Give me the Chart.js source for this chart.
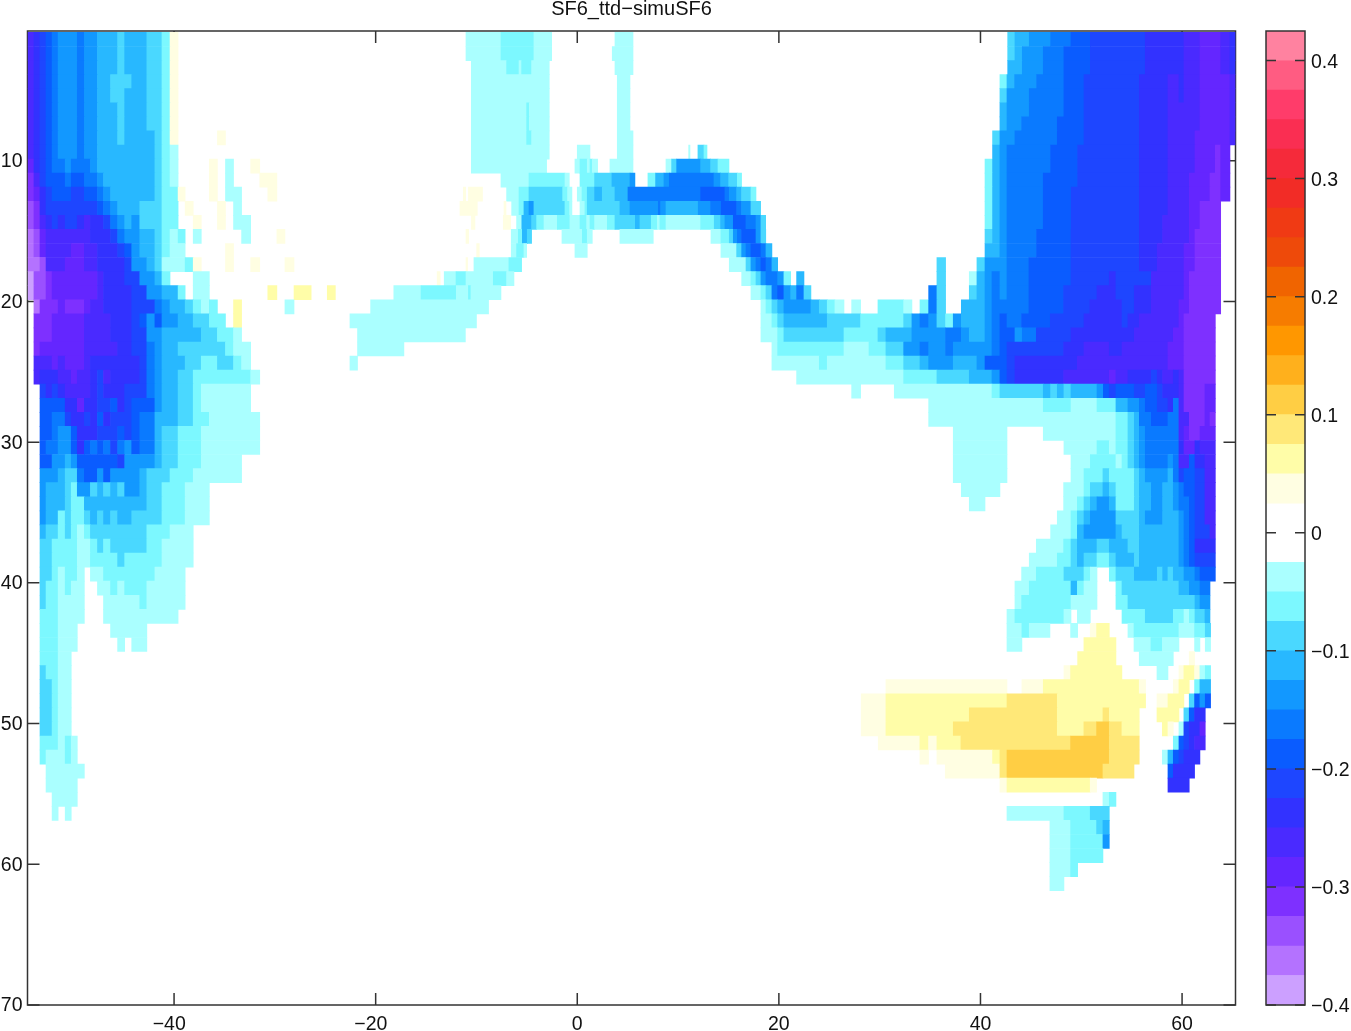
<!DOCTYPE html>
<html>
<head>
<meta charset="utf-8">
<title>SF6_ttd−simuSF6</title>
<script src="https://cdn.jsdelivr.net/npm/chart.js@4/dist/chart.umd.js"></script>
<style>
  html, body { margin: 0; background: #fff; overflow: hidden; }
  canvas { position: absolute; top: 0; }
  #section { left: 0; }
  #colorbar { left: 1245px; }
</style>
</head>
<body>
<canvas id="section" width="1351" height="1031"></canvas>
<canvas id="colorbar" width="106" height="1031"></canvas>
<script>
const titleText = 'SF6_ttd−simuSF6';
const lonTicks = [-40, -20, 0, 20, 40, 60];
const depthTicks = [10, 20, 30, 40, 50, 60, 70];
const barTicks = [-0.4, -0.3, -0.2, -0.1, 0, 0.1, 0.2, 0.3, 0.4];
const levelStep = 0.025; // every class in the section is one colorbar step

// colorbar classes, nearest to zero first
const coldColors = ['#AAFFFF', '#7CF8FF', '#4AD8FF', '#28B8FF', '#1298FF', '#0A7AFF', '#0A5CFF', '#1E46FF',
  '#3232FF', '#4A2AFF', '#6426FF', '#7E30FF', '#9A50FF', '#B472FF', '#CCA0FF'];
const warmColors = ['#FFFEE2', '#FFFDA8', '#FFE878', '#FFCE44', '#FFB01C', '#FF9700', '#F67C00', '#F06400',
  '#EE4A0A', '#F03A14', '#F22C26', '#F52A3A', '#FA2E52', '#FF3C6A', '#FF5C82', '#FF82A0'];

// one list per depth level (1, 2, 3 ...): lon, class, lon, class, ..., last lon. class 0 = blank
const depthRuns = [
  [-54.5,-10,-53.9,-9,-53.3,-8,-52.7,-7,-52.1,-6,-51.5,-5,-49.6,-6,-48.9,-5,-47.6,-4,-45.6,-3,-44.9,-4,-42.7,-3,-41.2,-2,-40.4,1,-39.6,0,-11.04,-1,-7.57,-2,-4.3,-1,-2.54,0,3.74,-1,5.53,0,42.7,-3,43.42,-4,44.84,-5,46.96,-6,48.98,-7,50.9,-8,56.35,-9,60.19,-10,61.78,-11,63.83,-10,64.75,-9,65.3],
  [-54.5,-10,-53.9,-9,-53.3,-8,-52.7,-7,-52.1,-6,-51.5,-5,-49.6,-6,-48.9,-5,-47.6,-4,-45.6,-3,-44.9,-4,-42.7,-3,-41.2,-2,-40.4,1,-39.6,0,-11.04,-1,-7.57,-2,-4.3,-1,-2.54,0,3.47,-1,5.53,0,42.7,-3,43.42,-4,44.15,-5,46.23,-6,48.28,-7,50.9,-8,56.35,-9,60.19,-10,61.78,-11,63.83,-10,64.75,-9,65.3],
  [-54.5,-10,-53.9,-9,-53.3,-8,-52.7,-7,-52.1,-6,-51.5,-5,-49.6,-6,-48.9,-5,-47.6,-4,-45.6,-3,-44.9,-4,-42.7,-3,-41.2,-2,-40.4,1,-39.6,0,-10.51,-1,-7.01,-2,-5.78,-1,-5.52,-2,-4.53,-1,-2.78,0,3.74,-1,5.53,0,42.7,-4,44.15,-5,46.23,-6,48.28,-7,50.9,-8,56.35,-9,60.19,-10,61.78,-11,63.83,-10,64.75,-9,65.3],
  [-54.5,-10,-53.9,-9,-53.3,-8,-52.7,-7,-52.1,-6,-51.5,-5,-49.6,-6,-48.9,-5,-47.6,-4,-46.3,-3,-44.2,-4,-42.7,-3,-41.2,-2,-40.4,1,-39.6,0,-10.51,-1,-2.78,0,3.97,-1,5.23,0,41.93,-2,42.63,-4,43.39,-5,45.57,-6,48.28,-7,50.27,-8,55.76,-9,58.6,-10,59.69,-9,60.19,-10,61.78,-11,64.75,-10,65.3],
  [-54.5,-10,-53.9,-9,-53.3,-8,-52.7,-7,-52.1,-6,-51.5,-5,-49.6,-6,-48.9,-5,-47.6,-4,-46.3,-3,-44.9,-4,-42.7,-3,-41.2,-2,-40.4,1,-39.6,0,-10.51,-1,-2.78,0,3.97,-1,5.23,0,41.93,-3,42.63,-5,44.84,-6,48.28,-7,50.27,-8,55.76,-9,58.6,-10,59.69,-9,60.19,-10,61.78,-11,64.75,-10,65.3],
  [-54.5,-10,-53.9,-9,-53.3,-8,-52.7,-7,-52.1,-6,-51.5,-5,-49.6,-6,-48.9,-5,-47.6,-4,-45.6,-3,-44.9,-4,-42.7,-3,-41.2,-2,-40.4,1,-39.6,0,-10.51,-1,-5.02,-2,-4.76,-1,-2.78,0,3.97,-1,5.23,0,41.93,-4,42.63,-5,44.84,-6,48.28,-7,50.27,-8,55.76,-9,58.6,-10,61.78,-11,64.75,-10,65.3],
  [-54.5,-10,-53.9,-9,-53.3,-8,-52.7,-7,-52.1,-6,-51.5,-5,-49.6,-6,-48.9,-5,-47.6,-4,-45.6,-3,-44.9,-4,-42.7,-3,-41.2,-2,-40.4,1,-39.6,0,-10.51,-1,-5.02,-2,-4.76,-1,-2.78,0,3.97,-1,5.23,0,41.93,-4,42.63,-5,44.08,-6,47.62,-7,50.27,-8,55.76,-9,58.6,-10,61.78,-11,64.75,-10,65.3],
  [-54.5,-10,-53.9,-9,-53.3,-8,-52.7,-7,-52.1,-6,-51.5,-5,-49.6,-6,-48.9,-5,-47.6,-4,-45.6,-3,-44.9,-4,-41.9,-3,-41.2,-2,-40.4,1,-39.6,0,-35.7,1,-34.9,0,-10.51,-1,-5.02,-2,-4.53,-1,-2.78,0,3.97,-1,5.53,0,41.2,-3,41.93,-5,43.42,-6,47.62,-7,50.27,-8,55.76,-9,58.6,-10,61.28,-11,64.75,-10,65.3],
  [-54.5,-10,-53.9,-9,-53.3,-8,-52.7,-7,-52.1,-6,-51.5,-5,-49.6,-6,-48.9,-5,-47.6,-4,-41.9,-3,-41.2,-2,-40.4,-1,-39.6,0,-10.51,-1,-2.78,0,0,-1,1.26,0,3.97,-1,5.53,0,11.05,-1,11.18,0,11.97,-3,12.57,-2,12.87,0,41.2,-4,41.93,-5,42.63,-6,46.96,-7,49.64,-8,55.76,-9,58.6,-10,61.28,-11,63.3,-12,63.83,-11,64.75],
  [-54.5,-11,-53.9,-9,-53.3,-8,-52.7,-7,-52.1,-6,-50.8,-5,-50.2,-6,-48.3,-5,-47.6,-4,-41.9,-3,-41.2,-2,-40.4,-1,-39.6,0,-36.5,1,-35.7,0,-34.9,-1,-34.1,0,-32.4,1,-31.5,0,-10.51,-1,-3.04,0,-0.23,-1,0.27,-2,0.99,-1,1.26,-2,1.49,-1,2.02,0,3.24,-1,5.53,0,8.8,-1,9.36,-3,9.86,-5,12.24,-4,13.23,-3,13.96,-2,15.05,0,40.45,-2,41.2,-4,41.93,-5,42.63,-6,46.96,-7,49.64,-8,55.76,-9,58.6,-10,61.28,-11,63.3,-12,63.83,-11,64.75],
  [-54.5,-12,-53.9,-10,-53.3,-8,-52.7,-7,-50.8,-6,-50.2,-7,-48.9,-6,-47.6,-5,-47.0,-4,-41.9,-3,-41.2,-2,-40.4,-1,-39.6,0,-36.5,1,-35.7,0,-34.9,-1,-34.1,0,-31.5,1,-29.8,0,-7.57,-1,-4.79,-2,-1.22,-1,-0.79,0,0.27,-2,1.72,-3,3.44,-4,5.23,-5,5.72,0,7.01,-2,7.77,-4,8.6,-5,9.13,-6,13.56,-5,14.22,-4,15.02,-3,15.88,-2,16.3,0,40.45,-2,41.2,-4,41.93,-5,42.63,-6,46.23,-7,49.64,-8,55.76,-9,58.6,-10,60.72,-11,62.77,-12,63.83,-11,64.75],
  [-54.5,-12,-53.9,-11,-53.3,-9,-52.7,-8,-52.1,-7,-50.2,-8,-48.9,-7,-47.6,-6,-47.0,-5,-46.3,-4,-41.9,-3,-41.2,-2,-39.6,1,-38.9,0,-36.5,1,-35.7,0,-34.9,-1,-33.3,0,-30.7,1,-29.8,0,-11.3,1,-11.07,0,-10.8,1,-9.4,0,-7.01,-1,-5.78,-2,-4.79,-3,-1.45,-2,-0.96,-1,-0.53,0,0,-1,0.47,-2,0.99,-3,1.72,-4,2.48,-3,3.74,-4,5.03,-6,12.24,-7,14.65,-6,15.08,-5,15.81,-4,16.3,-3,17.23,-2,17.73,0,40.45,-2,41.2,-4,41.93,-5,42.63,-6,46.23,-7,49.01,-8,55.76,-9,58.6,-10,60.72,-11,62.77,-12,63.83,-11,64.75],
  [-54.5,-13,-53.9,-12,-53.3,-9,-52.7,-8,-47.6,-7,-47.0,-6,-46.3,-5,-45.6,-4,-43.4,-3,-41.2,-2,-39.6,0,-38.9,1,-38.1,0,-35.7,1,-34.9,0,-34.1,-1,-33.3,0,-11.64,1,-9.92,0,-7.27,1,-7.07,0,-6.51,-1,-5.78,-2,-5.29,-4,-4.79,-5,-4.3,-3,-1.22,-2,-0.76,-1,-0.53,0,0.27,-1,0.76,-2,0.99,-3,4.23,-4,5.23,-5,8.04,-6,8.27,-5,8.8,-4,12.0,-5,13.23,-6,14.29,-7,15.81,-6,16.3,-5,17.23,-3,18.19,0,40.45,-2,41.2,-4,41.93,-5,42.63,-6,46.23,-7,49.01,-8,55.76,-9,58.6,-10,60.72,-11,61.78,-12,63.83],
  [-54.5,-13,-53.9,-12,-53.3,-10,-52.7,-9,-52.1,-8,-51.5,-9,-50.8,-8,-49.6,-9,-48.9,-10,-48.3,-9,-47.0,-8,-46.3,-6,-45.6,-5,-44.9,-4,-44.2,-5,-43.4,-3,-41.2,-2,-39.6,0,-38.1,1,-37.3,0,-35.7,1,-34.9,0,-34.1,-1,-32.4,0,-10.5,1,-10.15,0,-7.34,1,-6.61,0,-6.02,-1,-5.5,-4,-4.53,-3,-4.03,-2,-3.3,-1,-1.98,-2,-0.73,-1,0.27,-2,0.93,-1,1.26,-2,1.72,-1,2.98,-2,3.74,-3,5.76,-4,6.22,-3,7.34,-2,7.94,-1,8.2,-2,8.8,-1,12.24,-2,13.59,-3,14.22,-4,14.65,-5,15.48,-7,16.73,-6,17.73,-5,18.22,-3,18.69,0,40.45,-2,41.2,-4,41.93,-5,42.63,-6,46.23,-7,49.01,-8,55.76,-9,58.07,-10,60.72,-11,61.78,-12,63.83],
  [-54.5,-14,-53.9,-13,-53.3,-11,-52.7,-10,-48.3,-9,-46.3,-8,-45.6,-6,-44.9,-5,-43.4,-4,-41.9,-3,-41.2,-2,-40.4,-1,-39.6,-2,-38.9,0,-38.1,-1,-37.3,0,-33.3,-1,-32.4,0,-29.8,1,-29.0,0,-11.04,1,-10.78,0,-6.55,-1,-5.85,-2,-5.45,-4,-4.96,-3,-4.53,0,-1.52,-1,0.5,-2,0.99,-1,1.49,0,4.23,-1,7.54,0,13.26,-1,14.25,-2,15.08,-3,15.48,-5,15.88,-6,16.3,-7,17.73,-5,18.22,-3,18.7,0,40.45,-3,41.2,-4,41.93,-5,42.63,-6,45.57,-7,48.98,-8,55.76,-9,58.07,-10,60.72,-11,61.28,-12,63.83],
  [-54.5,-14,-53.9,-13,-53.3,-11,-52.7,-10,-50.2,-11,-48.9,-10,-47.6,-9,-45.6,-8,-44.9,-7,-44.2,-5,-43.4,-4,-41.9,-3,-41.2,-2,-40.4,-1,-38.9,0,-34.9,1,-34.1,0,-9.98,1,-9.72,0,-6.55,-1,-6.02,-2,-5.29,-1,-5.02,0,-0.23,-1,0.99,0,14.25,-1,15.81,-3,16.31,-5,16.74,-6,17.23,-7,18.22,-6,18.72,-4,19.31,0,40.45,-4,41.93,-5,42.63,-6,45.57,-7,48.98,-8,55.76,-9,57.54,-10,60.19,-11,61.28,-12,63.83],
  [-54.5,-14,-53.3,-13,-52.7,-10,-50.8,-11,-48.9,-10,-47.6,-9,-44.9,-8,-44.2,-5,-42.7,-4,-41.9,-3,-41.2,-1,-38.9,-2,-38.1,1,-37.3,0,-34.9,1,-34.1,0,-32.4,1,-31.5,0,-29.0,1,-28.1,0,-11.04,1,-10.88,0,-10.25,-1,-6.78,-2,-5.52,0,15.08,-1,16.74,-3,17.23,-5,17.73,-6,18.22,-7,18.72,-6,19.31,-4,19.88,0,35.68,-3,36.54,0,39.65,-3,40.45,-5,42.63,-6,44.81,-7,48.98,-8,55.76,-9,57.54,-10,60.19,-11,61.28,-12,63.83],
  [-54.5,-15,-53.9,-13,-52.7,-12,-52.1,-11,-47.6,-10,-47.0,-9,-44.9,-8,-43.4,-5,-41.9,-4,-41.2,-2,-40.4,0,-38.1,-1,-36.5,0,-13.9,1,-13.6,0,-13.2,-1,-12.03,-2,-11.04,-1,-8.33,-2,-7.01,-1,-6.28,0,16.31,-1,17.23,-2,17.73,-3,18.22,-5,18.72,-6,19.88,-5,20.5,-2,21.17,0,21.76,-4,22.49,0,35.68,-3,36.54,0,38.89,-1,39.65,-4,40.45,-5,41.14,-6,41.93,-5,42.63,-6,44.81,-7,48.98,-8,52.78,-9,53.44,-8,56.95,-10,60.19,-11,60.72,-12,63.83],
  [-54.5,-15,-53.9,-13,-52.7,-12,-52.1,-11,-47.6,-10,-47.0,-9,-44.2,-8,-42.7,-5,-41.2,-4,-39.6,-2,-38.9,0,-38.1,-1,-36.5,0,-30.7,2,-29.8,0,-28.1,2,-26.4,0,-24.8,2,-24.0,0,-18.2,-1,-15.5,-2,-12.0,-1,-10.8,-2,-10.55,-1,-7.57,0,17.23,-1,18.22,-2,18.72,-3,19.31,-6,19.88,-7,20.5,-5,21.17,-4,21.76,-6,22.49,-3,23.18,0,34.86,-6,35.68,-3,36.54,0,38.89,-3,39.65,-4,40.45,-5,41.14,-6,41.93,-5,42.63,-6,44.81,-7,48.25,-8,51.56,-9,53.44,-8,55.26,-9,56.95,-10,60.19,-11,60.72,-12,63.83],
  [-53.9,-14,-53.3,-12,-51.5,-11,-50.8,-12,-48.9,-11,-48.3,-10,-47.0,-9,-44.2,-8,-41.9,-6,-41.2,-5,-40.4,-4,-38.9,-3,-38.1,-2,-37.3,-1,-36.5,-2,-35.7,0,-34.1,2,-33.3,0,-29.0,-1,-28.1,0,-20.5,-1,-8.8,0,18.22,-1,18.72,-2,19.31,-3,19.88,-4,20.5,-5,23.18,-4,24.01,-3,24.8,-2,25.56,-1,26.46,0,27.22,-1,28.11,0,29.83,-2,32.38,-1,33.2,0,34.0,-2,34.86,-6,35.68,-3,36.54,0,38.1,-4,40.45,-5,41.14,-6,44.81,-7,48.25,-8,50.86,-9,54.04,-8,55.26,-9,56.95,-10,59.69,-11,60.72,-12,63.83],
  [-53.9,-12,-52.1,-11,-48.9,-10,-46.3,-9,-44.2,-8,-43.4,-7,-42.7,-5,-41.9,-7,-41.2,-5,-39.6,-4,-38.1,-3,-36.5,-2,-34.9,0,-34.1,2,-33.3,0,-22.55,-1,-10,0,18.22,-1,19.31,-2,19.88,-3,20.5,-4,24.8,-3,28.11,-2,32.38,-3,33.2,-5,34.0,-6,34.86,-5,35.68,-3,36.54,-2,37.3,-5,38.1,-4,40.45,-5,41.14,-6,41.93,-7,42.63,-6,44.08,-7,46.93,-8,50.27,-9,54.04,-8,54.63,-9,55.76,-10,59.69,-11,60.19,-12,63.3],
  [-53.9,-12,-52.1,-11,-48.9,-10,-46.3,-9,-44.2,-8,-42.7,-5,-41.2,-4,-37.3,-3,-35.7,-2,-34.1,-1,-33.3,0,-21.8,-1,-11.1,0,18.22,-1,19.88,-2,20.5,-3,26.46,-2,29.83,-3,30.62,-4,33.2,-5,36.54,-6,38.1,-5,38.89,-4,40.45,-5,41.14,-6,41.93,-7,43.42,-5,44.15,-6,45.54,-8,48.98,-9,55.26,-10,59.13,-11,60.19,-12,63.3],
  [-53.9,-12,-53.3,-11,-48.9,-10,-45.6,-9,-44.2,-8,-42.7,-6,-41.9,-5,-41.2,-4,-39.6,-3,-34.9,-2,-34.1,-1,-32.4,0,-21.8,-1,-17.2,0,19.31,-1,19.88,-2,26.46,-1,28.94,-2,30.62,-3,32.38,-5,34.0,-6,34.86,-5,36.54,-6,37.3,-5,41.14,-6,41.93,-7,42.63,-8,48.25,-9,50.27,-10,52.78,-9,54.04,-10,58.6,-11,60.19,-12,63.3],
  [-53.9,-10,-52.1,-11,-51.5,-10,-50.8,-11,-48.9,-10,-48.3,-9,-43.4,-8,-42.7,-6,-41.9,-5,-41.2,-4,-38.9,-3,-37.3,-2,-35.7,-3,-34.1,-2,-33.3,-1,-32.4,0,-22.55,-1,-21.8,0,19.31,-1,24.01,-2,24.8,-1,30.62,-2,32.38,-3,34.0,-4,34.86,-5,37.3,-4,39.65,-5,40.45,-7,42.63,-8,43.42,-9,49.61,-10,58.6,-11,60.19,-12,63.3],
  [-53.9,-10,-53.3,-9,-51.5,-10,-50.2,-11,-49.6,-10,-48.3,-9,-47.6,-8,-47.0,-10,-46.3,-9,-43.4,-8,-42.7,-6,-41.9,-5,-41.2,-4,-39.6,-3,-38.1,-2,-32.4,-1,-31.5,0,21.76,-1,32.38,-2,35.68,-3,38.89,-4,41.14,-5,41.93,-7,42.63,-8,43.42,-9,48.25,-10,52.78,-11,53.44,-10,54.63,-9,56.95,-8,57.54,-9,58.07,-10,59.13,-9,59.69,-10,60.19,-12,63.3],
  [-53.3,-8,-52.7,-9,-52.1,-8,-51.5,-9,-50.8,-10,-48.3,-9,-47.6,-8,-47.0,-9,-44.9,-8,-42.7,-6,-41.9,-5,-41.2,-4,-39.6,-3,-38.1,-2,-37.3,-1,-32.4,0,27.22,-1,28.11,0,31.45,-1,41.14,-2,41.93,-3,46.23,-4,46.96,-3,47.62,-4,48.28,-3,48.98,-4,51.56,-5,52.19,-7,52.78,-8,53.44,-7,55.26,-8,56.35,-7,57.54,-8,58.07,-9,59.69,-10,60.19,-12,62.27,-11,63.3],
  [-53.3,-7,-50.8,-9,-49.6,-11,-48.9,-9,-47.6,-8,-46.3,-7,-45.6,-9,-44.9,-8,-44.2,-7,-41.9,-5,-41.2,-4,-39.6,-3,-38.1,-2,-37.3,-1,-32.4,0,34.86,-1,46.23,-2,48.98,-1,51.56,-2,53.44,-4,54.63,-5,55.76,-6,56.35,-7,57.54,-8,58.6,-9,59.13,-6,59.69,-10,60.19,-12,62.27,-11,63.3],
  [-53.3,-7,-52.1,-6,-50.8,-8,-50.2,-9,-48.9,-8,-48.3,-9,-47.6,-7,-47.0,-9,-46.3,-8,-44.2,-7,-43.4,-6,-41.9,-4,-39.6,-3,-38.1,-2,-36.5,-1,-31.5,0,34.86,-1,53.44,-2,54.63,-3,55.26,-4,55.76,-6,56.95,-7,58.6,-6,59.69,-10,60.72,-12,62.27,-11,62.77,-12,63.3],
  [-53.3,-7,-52.1,-6,-51.5,-5,-50.2,-7,-49.6,-9,-47.6,-8,-45.6,-7,-44.9,-8,-44.2,-7,-43.4,-6,-41.9,-4,-41.2,-3,-39.6,-2,-37.3,-1,-31.5,0,37.3,-1,42.63,0,46.23,-1,53.44,-2,54.63,-3,55.26,-4,55.76,-5,56.35,-6,59.69,-10,60.19,-11,60.72,-12,61.78,-11,63.3],
  [-53.3,-7,-52.7,-6,-51.5,-5,-50.2,-7,-49.6,-9,-48.9,-7,-48.3,-6,-47.6,-7,-47.0,-6,-46.3,-8,-45.6,-6,-44.9,-5,-44.2,-7,-43.4,-6,-41.9,-4,-41.2,-3,-39.6,-2,-37.3,-1,-31.5,0,37.3,-1,42.63,0,48.28,-1,51.56,-2,52.78,-1,53.44,-2,54.63,-3,55.26,-4,55.76,-5,56.35,-6,59.69,-9,60.19,-11,61.28,-9,61.78,-10,63.3],
  [-53.3,-7,-52.1,-5,-50.8,-4,-50.2,-5,-49.6,-7,-45.6,-8,-44.9,-5,-41.9,-4,-41.2,-3,-39.6,-2,-37.3,-1,-33.3,0,37.3,-1,42.63,0,48.98,-1,50.9,-2,53.44,-1,54.04,-2,54.63,-3,55.26,-4,55.76,-5,56.35,-6,58.6,-5,59.13,-6,59.69,-10,60.72,-7,61.28,-9,62.27,-10,63.3],
  [-53.3,-5,-51.5,-4,-50.8,-3,-49.6,-6,-48.9,-7,-47.6,-5,-47.0,-7,-46.3,-5,-43.4,-4,-42.7,-3,-40.4,-2,-38.1,-1,-33.3,0,37.3,-1,42.63,0,48.98,-1,50.27,-2,52.15,-3,52.78,-2,55.26,-3,55.76,-4,56.35,-5,58.6,-4,59.13,-6,59.69,-8,60.19,-7,61.28,-8,62.27,-10,63.3],
  [-53.3,-5,-52.7,-4,-50.8,-3,-50.2,-2,-49.6,-5,-48.3,-3,-47.6,-4,-47.0,-3,-46.3,-4,-45.6,-3,-44.9,-5,-43.4,-4,-42.7,-3,-41.2,-2,-38.9,-1,-36.5,0,38.1,-1,41.93,0,48.25,-1,50.27,-2,50.9,-3,52.15,-4,52.78,-3,53.44,-2,55.26,-3,55.76,-4,56.95,-5,58.07,-4,59.13,-5,59.69,-6,60.19,-7,61.28,-8,62.27,-10,63.3],
  [-53.3,-5,-52.7,-4,-50.8,-3,-50.2,-2,-48.9,-4,-42.7,-3,-41.2,-2,-38.9,-1,-36.5,0,38.89,-1,40.45,0,48.25,-1,49.61,-2,50.27,-3,50.9,-4,51.56,-5,52.78,-4,53.44,-2,55.26,-3,55.76,-4,56.95,-5,58.07,-4,59.13,-5,59.69,-6,60.72,-7,61.28,-8,62.27,-10,63.3],
  [-53.3,-5,-52.7,-4,-51.5,-2,-50.8,-3,-50.2,-2,-48.9,-3,-48.3,-4,-47.6,-3,-47.0,-4,-46.3,-3,-45.6,-4,-44.2,-3,-41.2,-2,-38.9,-1,-36.5,0,47.62,-1,48.98,-2,49.61,-3,50.27,-4,50.9,-5,53.44,-3,55.76,-4,56.35,-5,58.07,-4,59.69,-5,60.19,-6,60.72,-7,61.28,-8,62.27,-10,63.3],
  [-53.3,-4,-52.7,-3,-51.5,-2,-50.8,-3,-50.2,-2,-49.6,-1,-48.9,-2,-48.3,-3,-42.7,-2,-40.4,-1,-38.1,0,46.96,-1,48.98,-2,49.61,-4,50.27,-5,53.44,-4,54.04,-3,55.76,-4,59.69,-5,60.19,-6,60.72,-7,61.28,-8,62.77,-10,63.3],
  [-53.3,-3,-52.1,-2,-49.6,-1,-48.3,-2,-47.6,-3,-47.0,-2,-46.3,-3,-42.7,-2,-41.2,-1,-38.1,0,45.54,-1,48.25,-2,48.98,-3,49.61,-4,51.56,-3,52.78,-4,54.63,-3,55.76,-4,59.69,-5,60.19,-6,60.72,-7,61.28,-9,63.3],
  [-53.3,-3,-52.1,-2,-49.6,-1,-48.3,-2,-45.6,-3,-44.9,-2,-41.2,-1,-38.1,0,44.84,-1,47.62,-2,48.98,-3,49.61,-4,50.27,-3,51.56,-2,52.78,-3,53.44,-4,55.26,-3,55.76,-4,59.69,-5,60.19,-6,60.72,-7,61.28,-8,63.3],
  [-53.3,-3,-52.1,-2,-51.5,-1,-50.8,-2,-49.6,-1,-48.9,0,-48.3,-1,-47.0,-2,-41.9,-1,-38.9,0,44.08,-1,45.54,-2,48.28,-3,50.27,-2,50.9,-1,51.56,0,52.78,-2,53.44,-3,55.26,-4,57.54,-3,58.07,-4,58.6,-3,59.13,-4,60.19,-5,61.28,-6,61.78,-7,63.3],
  [-53.3,-3,-52.7,-2,-51.5,-1,-50.8,-2,-50.2,-1,-48.9,0,-47.6,-1,-46.3,-2,-45.6,-1,-44.9,-2,-42.7,-1,-38.9,0,43.42,-1,44.84,-2,48.98,-4,49.61,-2,50.27,-1,51.56,0,53.44,-2,54.04,-3,59.69,-4,60.72,-5,61.78,-6,62.77],
  [-53.3,-3,-52.7,-2,-51.5,-1,-48.9,0,-47.0,-1,-43.4,-2,-42.7,-1,-38.9,0,43.42,-1,44.08,-2,48.98,-1,51.56,0,53.44,-2,54.63,-3,61.28,-4,61.78,-5,62.77],
  [-53.3,-2,-51.5,-1,-48.9,0,-47.0,-1,-39.6,0,42.63,-1,43.42,-2,48.28,-1,48.98,0,49.61,-1,50.9,0,54.04,-2,56.35,-3,59.13,-2,60.19,-1,60.72,-2,61.28,-3,62.27,-4,62.77],
  [-53.3,-2,-51.5,-1,-49.6,0,-46.3,-1,-42.7,0,42.63,-1,44.11,-2,44.84,-1,46.89,0,48.94,-1,49.64,0,50.89,1,51.52,2,52.78,0,54.63,-1,55.23,-2,59.69,-1,61.24,-2,62.3,-3,62.83],
  [-53.3,-2,-51.5,-1,-49.6,0,-45.6,-1,-44.9,0,-44.2,-1,-42.7,0,42.63,-1,44.11,0,50.26,2,53.44,0,55.23,-1,56.91,-2,58.04,-1,59.69,0,61.24,-1,61.77,0,62.3,-1,62.83],
  [-53.3,-2,-51.5,-1,-50.2,0,49.64,2,53.44,0,55.75,-1,59.13,0,60.71,1,61.24],
  [-53.3,-3,-52.7,-2,-51.5,-1,-50.2,0,48.28,1,48.94,2,54.03,0,57.51,-1,58.6,0,59.69,1,60.18,2,61.24,1,61.77,-1,62.3,-2,62.83],
  [-53.3,-3,-52.1,-2,-51.5,-1,-50.2,0,30.62,1,42.63,0,44.11,1,46.23,2,55.75,1,56.38,0,59.13,1,59.69,2,60.71,0,61.24,-2,61.77,-4,62.83],
  [-53.3,-3,-52.1,-2,-51.5,-1,-50.2,0,28.17,1,30.62,2,42.63,3,47.62,2,56.38,0,57.51,1,58.6,2,60.18,0,60.71,-3,61.24,-7,61.77,-5,62.3,-7,62.83],
  [-53.3,-3,-52.1,-2,-51.5,-1,-50.2,0,28.17,1,30.62,2,38.89,3,47.62,2,52.15,3,52.78,2,55.75,0,57.51,2,59.69,0,60.18,-3,60.71,-7,61.24,-9,62.3],
  [-53.3,-3,-52.1,-2,-51.5,-1,-50.2,0,28.17,1,30.62,2,37.3,3,47.62,2,50.26,3,51.52,4,52.78,3,54.03,2,55.75,0,58.04,2,58.6,1,59.13,0,59.69,-1,60.18,-8,60.71,-9,61.77,-11,62.3],
  [-53.3,-2,-51.5,-1,-50.8,-2,-50.2,-1,-49.6,0,29.86,1,33.99,2,34.85,1,35.68,2,38.06,3,48.94,4,52.78,3,55.75,0,59.13,-2,59.69,-7,60.18,-8,60.71,-9,61.24,-10,62.3],
  [-53.3,-2,-52.7,-1,-50.8,-2,-50.2,-1,-49.6,0,33.99,1,34.85,0,35.68,1,41.2,2,41.93,3,42.63,4,52.78,3,55.75,0,58.04,-1,58.6,-4,59.13,-7,59.69,-8,60.18,-9,61.77],
  [-52.7,-1,-48.9,0,36.51,1,41.93,3,42.63,4,52.15,3,55.23,0,58.6,-7,59.13,-9,61.24],
  [-52.7,-1,-49.6,0,41.93,1,42.63,2,50.89,1,51.52,0,58.6,-9,60.71],
  [-52.1,-1,-49.6,0,52.15,-1,52.78,-2,53.44],
  [-52.1,-1,-51.5,0,-50.8,-1,-50.2,0,42.63,-1,48.28,-2,50.89,-3,52.78],
  [46.89,-1,48.94,-2,51.52,-3,52.15,-4,52.78],
  [46.89,-1,48.94,-2,52.15,-5,52.78],
  [46.89,-1,48.94,-2,52.15],
  [46.89,-1,48.94,-2,49.64],
  [46.89,-1,48.28]
];

const fontFamily = '"Liberation Sans", Arial, sans-serif';
const labelFont = { family: fontFamily, size: 19.5 };
const inkColor = '#333333';

function classColor(k) {
  return k < 0 ? coldColors[-k - 1] : warmColors[k - 1];
}

// depth row n sits a little under its integer depth in the original section
let cells = [];
depthRuns.forEach((runs, i) => {
  for (let j = 0; j + 2 < runs.length; j += 2) {
    if (runs[j + 1] !== 0) {
      cells.push({ y: i + 1.38, x: [runs[j], runs[j + 2]], k: runs[j + 1] });
    }
  }
});

function signedLabel(v) {
  return String(v).replace('-', '\u2212');
}

function useTicks(values) {
  return (scale) => {
    scale.ticks = values.map((v) => ({ value: v }));
  };
}

// axes frame and inward ticks on all four sides
function frameAndTicks(ctx, area, xScale, yScale, len) {
  ctx.save();
  ctx.strokeStyle = inkColor;
  ctx.lineWidth = 1.5;
  ctx.strokeRect(area.left, area.top, area.right - area.left, area.bottom - area.top);
  ctx.beginPath();
  if (xScale) {
    xScale.ticks.forEach((t) => {
      let px = xScale.getPixelForValue(t.value);
      ctx.moveTo(px, area.top);
      ctx.lineTo(px, area.top + len);
      ctx.moveTo(px, area.bottom);
      ctx.lineTo(px, area.bottom - len);
    });
  }
  yScale.ticks.forEach((t) => {
    let py = yScale.getPixelForValue(t.value);
    ctx.moveTo(area.left, py);
    ctx.lineTo(area.left + len, py);
    ctx.moveTo(area.right, py);
    ctx.lineTo(area.right - len, py);
  });
  ctx.stroke();
  ctx.restore();
}

new Chart(document.getElementById('section'), {
  type: 'bar',
  data: {
    datasets: [{
      data: cells,
      backgroundColor: (c) => classColor(c.raw.k),
      borderWidth: 0,
      barPercentage: 1,
      categoryPercentage: 1
    }]
  },
  options: {
    indexAxis: 'y',
    responsive: false,
    animation: false,
    layout: { padding: { left: 0, right: 115.5, top: 0, bottom: 0 } },
    scales: {
      x: {
        type: 'linear',
        min: -54.54,
        max: 65.3,
        afterBuildTicks: useTicks(lonTicks),
        afterFit: (s) => { s.height = 26; },
        grid: { display: false, drawTicks: false },
        border: { display: false },
        ticks: {
          autoSkip: false,
          maxRotation: 0,
          padding: 8,
          color: '#111',
          font: labelFont,
          // the trailing space pushes negative labels left, as in the plot
          callback: (v) => (v < 0 ? signedLabel(v) + '\u2002' : String(v))
        }
      },
      y: {
        type: 'linear',
        reverse: true,
        offset: false,
        min: 0.78,
        max: 70,
        afterBuildTicks: useTicks(depthTicks),
        afterFit: (s) => { s.width = 27.5; },
        grid: { display: false, drawTicks: false, offset: false },
        border: { display: false },
        ticks: {
          autoSkip: false,
          padding: 5,
          labelOffset: 1,
          color: '#111',
          font: labelFont
        }
      }
    },
    plugins: {
      legend: { display: false },
      tooltip: { enabled: false },
      title: {
        display: true,
        text: titleText,
        fullSize: false,
        color: '#111',
        font: { family: fontFamily, size: 20, weight: 'normal', lineHeight: 0.9 },
        padding: { top: 0, bottom: 13 }
      }
    }
  },
  plugins: [{
    id: 'frameBelow',
    beforeDatasetsDraw(chart) {
      frameAndTicks(chart.ctx, chart.chartArea, chart.scales.x, chart.scales.y, 12);
    }
  }]
});

// one floating bar per class, k<0 below zero and k>0 above; the white band around zero stays empty
const barClasses = [];
for (let k = -15; k <= 16; k++) {
  if (k !== 0) {
    barClasses.push(k);
  }
}

new Chart(document.getElementById('colorbar'), {
  type: 'bar',
  data: {
    labels: ['class'],
    datasets: barClasses.map((k) => {
      let lo = k < 0 ? (k - 1) * levelStep : k * levelStep;
      return {
        data: [[lo, lo + levelStep]],
        backgroundColor: classColor(k),
        borderWidth: 0,
        grouped: false,
        barPercentage: 1,
        categoryPercentage: 1
      };
    })
  },
  options: {
    responsive: false,
    animation: false,
    layout: { padding: { left: 21, right: 0, top: 31, bottom: 26 } },
    scales: {
      x: { display: false },
      y: {
        position: 'right',
        min: -0.4,
        max: 0.425,
        afterBuildTicks: useTicks(barTicks),
        afterFit: (s) => { s.width = 46; },
        grid: { display: false, drawTicks: false },
        border: { display: false },
        ticks: {
          autoSkip: false,
          padding: 6,
          labelOffset: 2,
          color: '#111',
          font: labelFont,
          callback: (v) => (v === 0 ? '0' : signedLabel(v.toFixed(1)))
        }
      }
    },
    plugins: { legend: { display: false }, tooltip: { enabled: false } }
  },
  plugins: [{
    id: 'frameAbove',
    afterDatasetsDraw(chart) {
      frameAndTicks(chart.ctx, chart.chartArea, null, chart.scales.y, 10);
    }
  }]
});
</script>
</body>
</html>
